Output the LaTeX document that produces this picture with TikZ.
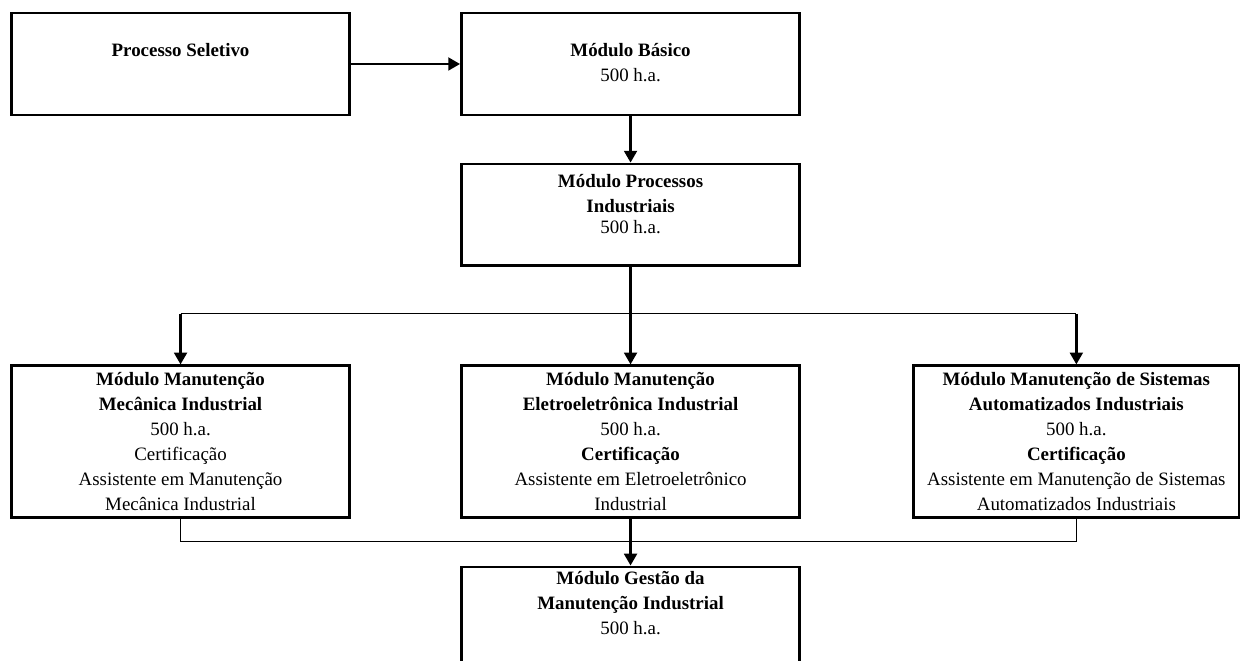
\documentclass[tikz,border=0pt]{standalone}
\usepackage{fontspec}
\setmainfont{Liberation Serif}
\usepackage{tikz}
\usetikzlibrary{arrows.meta,positioning,calc}
\tikzset{
  modbox/.style={draw=black, line width=1.5pt, align=center, font=\fontsize{10.4}{13.75}\selectfont, minimum width=186pt, minimum height=56pt, inner xsep=2pt, inner ysep=0pt},
  tallbox/.style={modbox, minimum height=83.6pt},
  flow/.style={-{Triangle[length=6.5pt, width=7pt]}, line width=1.5pt, draw=black},
  branch/.style={line width=0.6pt, draw=black}
}

\begin{document}
\begin{tikzpicture}
  \clip (-99.3pt,35.2pt) rectangle (583.8pt,-328.35pt);
  \node[modbox] (sel) {\strut\\\textbf{Processo Seletivo}\\\strut\\\strut};
  \node[modbox, right=60pt of sel] (basico) {\strut\\\textbf{Módulo Básico}\\500 h.a.\\\strut};
  \node[modbox, below=25.5pt of basico] (procind) {\textbf{Módulo Processos}\\\textbf{Industriais}\\[-2pt]500 h.a.\\[-5.5pt]\strut};
  \node[tallbox, below=53.5pt of procind] (eletro) {\textbf{Módulo Manutenção}\\\textbf{Eletroeletrônica Industrial}\\500 h.a.\\\textbf{Certificação}\\Assistente em Eletroeletrônico\\Industrial};
  \node[tallbox, left=60pt of eletro] (mecan) {\textbf{Módulo Manutenção}\\\textbf{Mecânica Industrial}\\500 h.a.\\Certificação\\Assistente em Manutenção\\Mecânica Industrial};
  \node[tallbox, right=61.2pt of eletro, minimum width=179pt] (autom) {\textbf{Módulo Manutenção de Sistemas}\\\textbf{Automatizados Industriais}\\500 h.a.\\\textbf{Certificação}\\Assistente em Manutenção de Sistemas\\Automatizados Industriais};
  \node[modbox, below=25.5pt of eletro] (gestao) {\textbf{Módulo Gestão da}\\\textbf{Manutenção Industrial}\\500 h.a.\\[-2pt]\strut};
  \coordinate (split) at ($(procind.south)!0.48!(eletro.north)$);
  \coordinate (join) at ($(eletro.south)!0.48!(gestao.north)$);
  \draw[flow] (sel) -- (basico);
  \draw[flow] (basico) -- (procind);
  \draw[flow] (procind) -- (eletro);
  \draw[branch] (mecan.north |- split) -- (autom.north |- split);
  \draw[flow] (mecan.north |- split) -- (mecan);
  \draw[flow] (autom.north |- split) -- (autom);
  \draw[branch] (mecan.south) |- (join) -| (autom.south);
  \draw[flow] (eletro) -- (gestao);
\end{tikzpicture}
\end{document}
